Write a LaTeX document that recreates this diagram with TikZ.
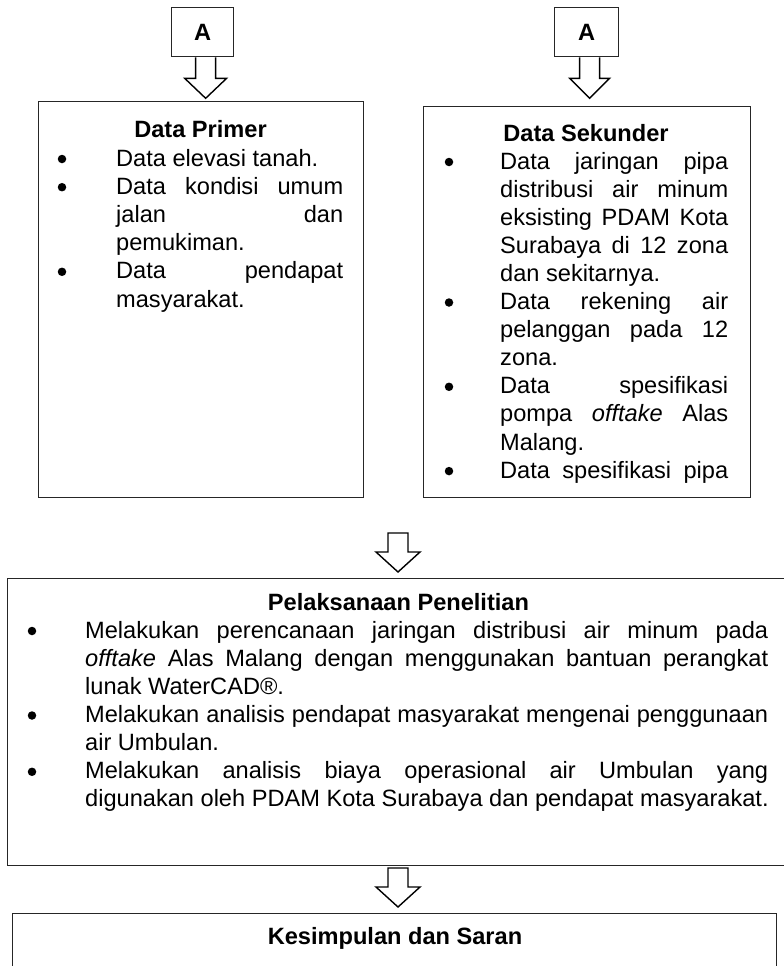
\documentclass[tikz,border=0pt]{standalone}
\usepackage{fontspec}
\setmainfont{Liberation Sans}
\newcommand\bodyfnt{\fontsize{23.6}{28.1}\selectfont}
\newcommand\jline[2]{\makebox[#1pt][s]{#2}}
\begin{document}
\begin{tikzpicture}[x=1pt,y=-1pt,
  box/.style={draw=black!85, line width=1.3pt, inner sep=0pt, anchor=north west},
  txt/.style={anchor=base west, inner sep=0pt, font=\bodyfnt},
  hd/.style={anchor=base, inner sep=0pt, font=\bodyfnt\bfseries},
  bul/.style={circle, fill=black, inner sep=0pt, minimum size=8.5pt, yshift=7pt},
  blockarr/.style={draw=black, line width=1.4pt, fill=white, line join=miter}]
\useasboundingbox (0,0) rectangle (784,966);
\fill[white] (0,0) rectangle (784,966);

% A boxes
\node[box, minimum width=62pt, minimum height=49pt] (A1) at (171,7) {};
\node[hd, anchor=center] (A1t) at (A1.center) {A};
\node[box, minimum width=64pt, minimum height=49pt] (A2) at (554,7) {};
\node[hd, anchor=center] (A2t) at (A2.center) {A};

% main boxes
\node[box, minimum width=325pt, minimum height=396pt] (prim) at (38,101) {};
\node[box, minimum width=327pt, minimum height=391pt] (sek) at (423,106) {};
\node[box, minimum width=785pt, minimum height=287pt] (pel) at (7,578) {};
\node[box, minimum width=764pt, minimum height=80pt] (kes) at (12,913) {};

% arrows A -> boxes
\draw[blockarr] ([xshift=-7pt]A1.south) -- ++(0,21) -- ++(-11,0) -- ++(21,20) -- ++(21,-20) -- ++(-11,0) -- ++(0,-21);
\draw[blockarr] ([xshift=-7pt]A2.south) -- ++(0,21) -- ++(-10,0) -- ++(20,20) -- ++(20,-20) -- ++(-10,0) -- ++(0,-21);

% middle arrows
\coordinate (m1) at (398,533);
\draw[blockarr] (m1) ++(-10,0) -- ++(0,19) -- ++(-12,0) -- ++(22,20) -- ++(22,-20) -- ++(-12,0) -- ++(0,-19) -- cycle;
\coordinate (m2) at (398,868);
\draw[blockarr] (m2) ++(-10,0) -- ++(0,19) -- ++(-12,0) -- ++(22,20) -- ++(22,-20) -- ++(-12,0) -- ++(0,-19) -- cycle;

% Data Primer
\node[hd] (primh) at (200.5,137) {Data Primer};
\node[bul] (pb1) at (62,166) {};
\node[bul] (pb2) at (62,194.2) {};
\node[bul] (pb3) at (62,278.8) {};
\node[txt] (p1) at (116,166) {Data elevasi tanah.};
\node[txt] (p2) at (116,194.2) {\jline{227}{Data kondisi umum}};
\node[txt] (p3) at (116,222.4) {\jline{227}{jalan dan}};
\node[txt] (p4) at (116,250.6) {pemukiman.};
\node[txt] (p5) at (116,278.8) {\jline{227}{Data pendapat}};
\node[txt] (p6) at (116,307) {masyarakat.};

% Data Sekunder
\node[hd] (sekh) at (586,141) {Data Sekunder};
\node[bul] (sb1) at (449,169) {};
\node[bul] (sb2) at (449,309.5) {};
\node[bul] (sb3) at (449,393.8) {};
\node[bul] (sb4) at (449,478.1) {};
\node[txt] (s1) at (500,169) {\jline{228}{Data jaringan pipa}};
\node[txt] (s2) at (500,197.1) {\jline{228}{distribusi air minum}};
\node[txt] (s3) at (500,225.2) {\jline{228}{eksisting PDAM Kota}};
\node[txt] (s4) at (500,253.3) {\jline{228}{Surabaya di 12 zona}};
\node[txt] (s5) at (500,281.4) {dan sekitarnya.};
\node[txt] (s6) at (500,309.5) {\jline{228}{Data rekening air}};
\node[txt] (s7) at (500,337.6) {\jline{228}{pelanggan pada 12}};
\node[txt] (s8) at (500,365.7) {zona.};
\node[txt] (s9) at (500,393.8) {\jline{228}{Data spesifikasi}};
\node[txt] (s10) at (500,421.9) {\jline{228}{pompa \textit{offtake} Alas}};
\node[txt] (s11) at (500,450) {Malang.};
\node[txt] (s12) at (500,478.1) {\jline{228}{Data spesifikasi pipa}};

% Pelaksanaan
\node[hd] (pelh) at (398.5,610) {Pelaksanaan Penelitian};
\node[bul] (lb1) at (32,638) {};
\node[bul] (lb2) at (32,722.5) {};
\node[bul] (lb3) at (32,778.8) {};
\node[txt] (l1) at (85,638) {\jline{683}{Melakukan perencanaan jaringan distribusi air minum pada}};
\node[txt] (l2) at (85,666.2) {\jline{683}{\textit{offtake} Alas Malang dengan menggunakan bantuan perangkat}};
\node[txt] (l3) at (85,694.3) {lunak WaterCAD®.};
\node[txt] (l4) at (85,722.5) {\jline{683}{Melakukan analisis pendapat masyarakat mengenai penggunaan}};
\node[txt] (l5) at (85,750.6) {air Umbulan.};
\node[txt] (l6) at (85,778.8) {\jline{683}{Melakukan analisis biaya operasional air Umbulan yang}};
\node[txt] (l7) at (85,806.9) {digunakan oleh PDAM Kota Surabaya dan pendapat masyarakat.};

% Kesimpulan
\node[hd] (kesh) at (395,944) {Kesimpulan dan Saran};
\end{tikzpicture}
\end{document}
